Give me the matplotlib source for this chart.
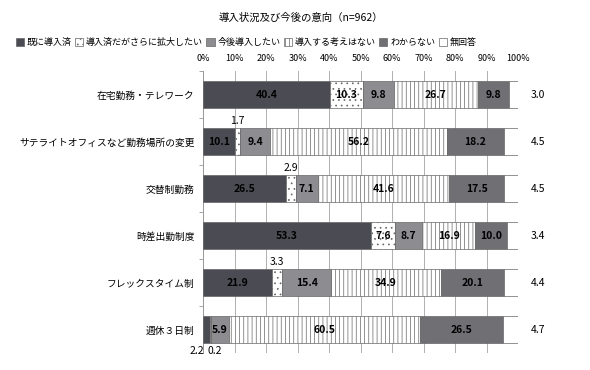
import numpy as np
import matplotlib.pyplot as plt

plt.rcParams['font.family'] = ['Noto Sans CJK JP', 'DejaVu Sans']
plt.rcParams['hatch.linewidth'] = 0.5

# data
categories = ['在宅勤務・テレワーク', 'サテライトオフィスなど勤務場所の変更', '交替制勤務',
              '時差出勤制度', 'フレックスタイム制', '週休３日制']
series_names = ['既に導入済', '導入済だがさらに拡大したい', '今後導入したい',
                '導入する考えはない', 'わからない', '無回答']
already = [40.4, 10.1, 26.5, 53.3, 21.9, 2.2]
expand = [10.3, 1.7, 2.9, 7.6, 3.3, 0.2]
plan = [9.8, 9.4, 7.1, 8.7, 15.4, 5.9]
no_plan = [26.7, 56.2, 41.6, 16.9, 34.9, 60.5]
unknown = [9.8, 18.2, 17.5, 10.0, 20.1, 26.5]
no_answer = [3.0, 4.5, 4.5, 3.4, 4.4, 4.7]
xticks = [0, 10, 20, 30, 40, 50, 60, 70, 80, 90, 100]

series = [already, expand, plan, no_plan, unknown, no_answer]
styles = [
    dict(color='#4b4b53', hatch=None),
    dict(color='white', hatch='...'),
    dict(color='#8c8c91', hatch=None),
    dict(color='white', hatch='||||'),
    dict(color='#6f6f74', hatch=None),
    dict(color='white', hatch=None),
]
text_colors = ['white', 'black', 'black', 'black', 'black', 'black']

fig = plt.figure(figsize=(5.9, 3.7), dpi=100)
ax = fig.add_axes([0.3441, 0.0459, 0.5339, 0.762])

y = np.arange(len(categories))
left = np.zeros(len(categories))
for vals, st, name, tc in zip(series, styles, series_names, text_colors):
    vals = np.array(vals)
    ax.barh(y, vals, left=left, height=0.58, color=st['color'], hatch=st['hatch'],
            edgecolor='#666666', linewidth=0.5, label=name, zorder=3)
    left = left + vals

# value labels
for i in range(len(categories)):
    cum = 0
    for j, vals in enumerate(series):
        v = vals[i]
        mid = cum + v / 2
        if j == 5:
            ax.text(104, i, f'{v:.1f}', ha='left', va='center', fontsize=7.5, color='black')
        elif v < 4:
            if i == 5:
                xpos = -1.8 if j == 0 else 3.6
                ax.text(xpos, i + 0.36, f'{v:.1f}', ha='center', va='top', fontsize=7.5)
            else:
                ax.text(mid, i - 0.33, f'{v:.1f}', ha='center', va='bottom', fontsize=7.5)
        else:
            ax.text(mid, i, f'{v:.1f}', ha='center', va='center', fontsize=7.5,
                    color=tc, fontweight='bold')
        cum += v

ax.set_xlim(0, 100)
ax.set_ylim(len(categories) - 0.5, -0.5)
ax.xaxis.tick_top()
ax.set_xticks(xticks)
ax.set_xticklabels([f'{t}%' for t in xticks], fontsize=6.5)
ax.tick_params(axis='x', length=0, pad=6)
ax.set_yticks(y)
ax.set_yticklabels(categories, fontsize=7)
ax.set_yticks(np.arange(-0.5, len(categories), 1), minor=True)
ax.tick_params(axis='y', which='major', length=0, pad=6)
ax.tick_params(axis='y', which='minor', length=3, color='#999999', width=0.6)
ax.grid(axis='x', color='#b0b0b0', linewidth=0.7, zorder=0)
for s in ['top', 'right', 'bottom']:
    ax.spines[s].set_visible(False)
ax.spines['left'].set_color('#999999')
ax.spines['left'].set_linewidth(0.7)

fig.text(0.51, 0.953, '導入状況及び今後の意向（n=962）', ha='center', va='center', fontsize=7.5)
fig.legend(loc='center', bbox_to_anchor=(0.417, 0.885), ncol=6, fontsize=6.5,
           frameon=False, handlelength=0.9, handleheight=0.9, handletextpad=0.3,
           columnspacing=0.4)

fig.savefig('out.png', dpi=100)
